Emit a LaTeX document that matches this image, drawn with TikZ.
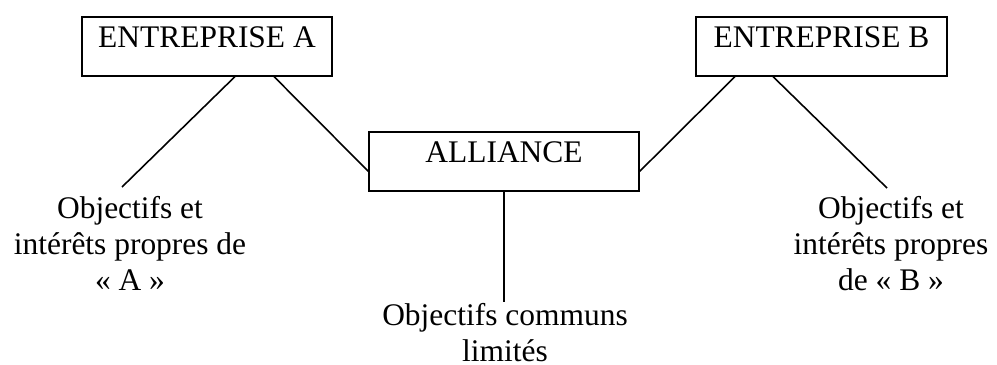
\documentclass[tikz,border=0pt]{standalone}
\usepackage{fontspec}
\setmainfont{Liberation Serif}
\usetikzlibrary{calc}
\def\Lw{0.9pt}
\def\Fnt{\fontsize{17.9}{20.5}\selectfont}
\tikzset{
    firm box/.style={
        draw, line width=\Lw, inner xsep=0pt, inner ysep=0pt,
        minimum width=#1, text height=0.614cm, text depth=0.566cm,
        anchor=north, font=\Fnt
    },
    aim text/.style={
        align=center, inner sep=0pt, anchor=north, font=\Fnt
    },
    link/.style={line width=\Lw}
}

\begin{document}
\begin{tikzpicture}[x=0.02cm, y=-0.02cm]
    \useasboundingbox (0,0) rectangle (997,365);

    % the three boxes
    \node[firm box=5cm] (entA) at (207,16) {ENTREPRISE A};
    \node[firm box=5.02cm] (entB) at (821.5,16) {ENTREPRISE B};
    \node[firm box=5.4cm] (alliance) at (504,131) {ALLIANCE};

    % the aims
    \node[aim text] (aimA) at (130,196) {Objectifs et\\intérêts propres de\\« A »};
    \node[aim text] (aimB) at (891,196) {Objectifs et\\intérêts propres\\de « B »};
    \node[aim text] (aimC) at (505,303) {Objectifs communs\\limités};

    \coordinate (endA) at (122,187);
    \coordinate (endB) at (887,188);
    \coordinate (endC) at (504,302);

    % links
    \draw[link] ($(entA.south)+(28,0)$) -- (endA);
    \draw[link] ($(entA.south)+(67,0)$) -- ($(alliance.west)+(0,10)$);
    \draw[link] ($(entB.south)+(-86.5,0)$) -- ($(alliance.east)+(0,10)$);
    \draw[link] ($(entB.south)+(-48.5,0)$) -- (endB);
    \draw[link] (alliance.south) -- (endC);
\end{tikzpicture}
\end{document}
